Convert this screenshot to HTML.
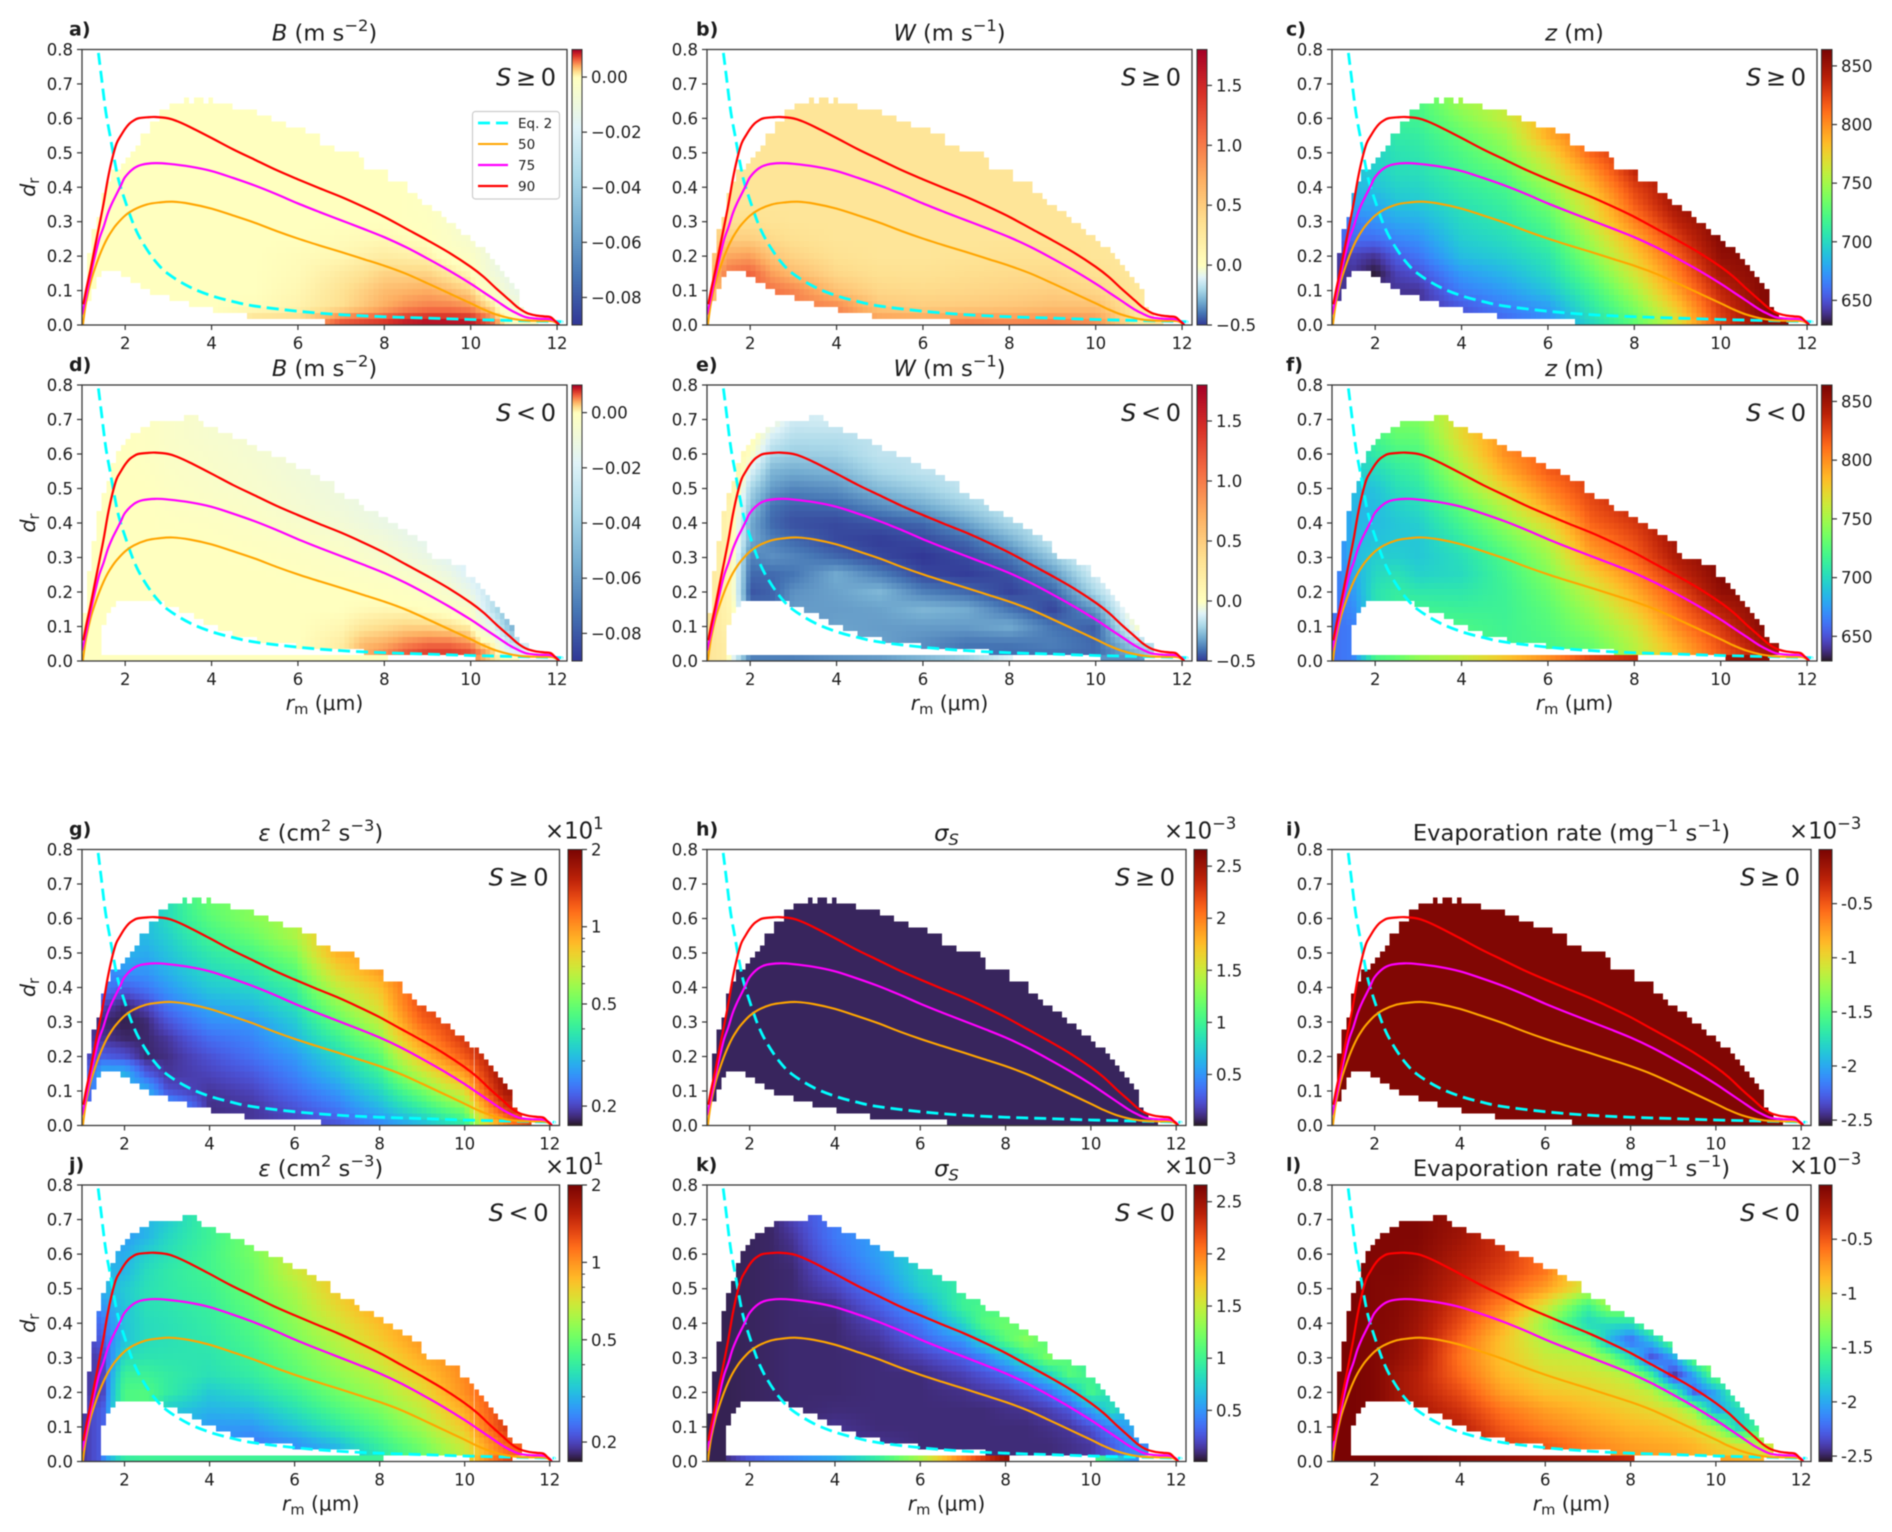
<!DOCTYPE html>
<html lang="en">
<head>
<meta charset="utf-8">
<title>Cloud droplet statistics panels</title>
<style>
html,body{margin:0;padding:0;background:#fff;}
#figure{display:block;width:1892px;height:1532px;background:#fff;filter:blur(0.45px);}
#legend-layer{filter:blur(0.45px);}
text{font-family:"DejaVu Sans","Liberation Sans",sans-serif;fill:#1c1c1c;white-space:pre;}
</style>
</head>
<body>
<svg id="figure" xmlns="http://www.w3.org/2000/svg" width="1892" height="1532" viewBox="0 0 1892 1532"></svg>
<script>
/* ---------- shared axes data ---------- */
const xTickValues=[2,4,6,8,10,12];
const yTickValues=[0,0.1,0.2,0.3,0.4,0.5,0.6,0.7,0.8];
const rmKnots=[1,1.5,2,2.5,3,4,5,6,7,8,9,10,11,12];
const rmKnotsFine=[1,1.5,2,2.5,3,4,5,6,7,7.5,8,8.5,9,9.5,10,10.5,11,12];
/* every field column lists values at dr = 0, 0.05, 0.10 ... ; the last entry holds upward */

/* ---------- percentile curves and Eq. 2 ---------- */
const curve90Rm=[1.03,1.1,1.2,1.3,1.4,1.5,1.6,1.7,1.8,1.9,2,2.1,2.2,2.3,2.5,2.7,3,3.2,3.5,4,4.5,5,5.5,6,6.5,7,7.5,8,8.5,9,9.5,10,10.3,10.6,10.9,11.1,11.3,11.5,11.7,11.85,11.95,12.05];
const curve90Dr=[0.06,0.105,0.163,0.227,0.289,0.353,0.425,0.483,0.527,0.55,0.57,0.585,0.594,0.6,0.603,0.604,0.6,0.592,0.575,0.543,0.51,0.48,0.45,0.423,0.397,0.372,0.344,0.314,0.28,0.246,0.21,0.169,0.14,0.105,0.072,0.05,0.035,0.028,0.025,0.023,0.012,0];
const curve75Rm=[1,1.1,1.2,1.3,1.4,1.5,1.6,1.7,1.8,1.9,2,2.2,2.4,2.7,3,3.5,4,4.5,5,5.5,6,6.5,7,7.5,8,8.5,9,9.5,10,10.3,10.6,10.9,11.1,11.3,11.6,11.85,12,12.05];
const curve75Dr=[0.03,0.085,0.145,0.2,0.25,0.285,0.325,0.355,0.38,0.405,0.43,0.455,0.466,0.47,0.468,0.46,0.447,0.427,0.405,0.38,0.353,0.328,0.304,0.28,0.255,0.226,0.193,0.158,0.12,0.095,0.07,0.045,0.032,0.022,0.018,0.017,0.008,0];
const curve50Rm=[1.02,1.05,1.1,1.2,1.3,1.4,1.5,1.6,1.7,1.8,2,2.2,2.5,2.8,3.1,3.5,4,4.5,5,5.5,6,6.5,7,7.5,8,8.5,9,9.5,10,10.3,10.6,10.9,11.2,11.6,11.9,12.05];
const curve50Dr=[0,0.03,0.07,0.125,0.165,0.20,0.23,0.255,0.275,0.292,0.318,0.335,0.35,0.356,0.358,0.352,0.338,0.318,0.297,0.273,0.251,0.231,0.212,0.192,0.172,0.149,0.121,0.092,0.063,0.045,0.03,0.02,0.014,0.012,0.011,0];
const eq2Rm=[1.38,1.45,1.55,1.65,1.75,1.85,2,2.2,2.4,2.7,3,3.5,4,4.5,5,6,7,8,9,10,11,12,12.1];
const eq2Dr=[0.79,0.72,0.62,0.55,0.48,0.42,0.36,0.29,0.24,0.185,0.148,0.11,0.085,0.068,0.055,0.04,0.03,0.024,0.02,0.016,0.013,0.01,0.009];

/* ---------- occupied regions of the (rm, dr) plane ---------- */
const posTopEnd=[1.12,1.23,1.34,1.46,1.57,1.68,1.91,2.03,2.14,2.25,2.36,2.58,2.81,3.05,3.38,3.5,3.6,3.83,3.95,4.06,4.51,5.08,5.43,5.77,6.22,6.46,6.8,7.01,7.36,7.58,7.81,8.04,8.26,8.5,8.73,8.84,9.07,9.28,9.41,9.63,9.74,9.97,10.08,10.31,10.42,10.54,10.65,10.77,10.89,11,11.11,11.21,11.34,11.55];
const posTopDr=[0,0.213,0.285,0.32,0.375,0.41,0.445,0.465,0.48,0.5,0.53,0.55,0.59,0.625,0.64,0.66,0.64,0.66,0.64,0.66,0.64,0.62,0.6,0.585,0.57,0.55,0.53,0.51,0.5,0.48,0.46,0.445,0.425,0.41,0.39,0.37,0.355,0.33,0.315,0.3,0.28,0.26,0.25,0.23,0.21,0.19,0.175,0.155,0.14,0.125,0.105,0.06,0.04,0.018];
const posLowEnd=[1.23,1.34,1.46,1.91,2.13,2.36,2.58,3.05,3.5,4.06,4.85,6.67,12.3];
const posLowDr=[0.07,0.108,0.142,0.16,0.143,0.125,0.108,0.089,0.072,0.053,0.036,0.018,0];
const negTopEnd=[1.12,1.23,1.34,1.46,1.57,1.68,1.79,1.91,2.03,2.13,2.36,2.58,3.38,3.71,3.83,4.19,4.51,4.85,5.08,5.43,5.77,5.98,6.33,6.56,6.9,7.12,7.36,7.58,7.81,8.04,8.26,8.5,8.73,8.94,9.07,9.28,9.5,9.84,10.08,10.18,10.31,10.42,10.54,10.65,10.77,10.89,11,11.09,11.3];
const negTopDr=[0.14,0.265,0.355,0.43,0.48,0.53,0.57,0.605,0.625,0.64,0.66,0.675,0.695,0.715,0.695,0.68,0.66,0.64,0.625,0.605,0.585,0.57,0.55,0.535,0.515,0.49,0.475,0.46,0.44,0.42,0.4,0.385,0.365,0.35,0.32,0.3,0.29,0.27,0.25,0.225,0.21,0.195,0.18,0.16,0.145,0.125,0.105,0.07,0.05];
const negLowEnd=[1.46,1.57,1.68,1.79,2.95,3.29,3.61,3.84,4.19,4.53,5.08,5.98,7.57,12.3];
const negLowDr=[0,0.106,0.142,0.16,0.179,0.16,0.142,0.123,0.106,0.089,0.072,0.055,0.036,0.018];
const negStripStart=[1,10.1];
const negStripEnd=[8.05,11.1];

/* ---------- B (units of 1e-3 m s-2), fine rm columns ---------- */
const fieldA=[[0],[0],[0],[0],[0],[0],[3,0.2,0],[3,0.8,0.5,0.3,0.2,0],[7.5,2,1.8,1.3,0.5,0.2,0],[8,3,2.6,1.8,0.9,0.3,0],[8.5,4,3.4,2.5,1.2,0.4,0],[9.5,5,3.7,2.5,1,0.2,-0.2],[10,5.5,4,2.5,0.8,0,-0.5,-1],[10,5.5,3.4,1.5,-0.5,-2,-3],[10,5,2.5,0.3,-2,-5,-8],[7,2,-2,-8,-10],[-1,-6,-12,-15,-20],[-2,-10,-20]];
const fieldD=[[0],[0],[0],[0,0,0,0,0,0,0,0,0,0,0,-0.5,-1],[0,0,0,0,0,0,0,0,-0.5,-1,-1.5,-2,-2.5,-3],[0,0,0,0,0,0,0,-0.5,-1,-2,-3,-3.5,-4,-5],[0,0,0,0,0,0,-0.5,-1,-2,-3,-4.5,-5,-6],[0,0,0,0,0,-0.5,-1,-2,-4,-6,-7,-8],[1,1.2,0.5,0,0,-1,-2,-4,-7,-9,-10],[4,3.5,1.5,0.3,-0.2,-1.5,-3.5,-6,-9.5,-11],[6,4,2,0.5,-0.5,-2,-5,-8,-12],[8,5.2,2.5,0.4,-1,-3.5,-8,-12,-14],[9,6,2.5,-0.2,-2,-6,-12,-15],[9,6,2,-1,-5,-11,-17],[9,5,1,-3,-13,-20,-22],[6,0,-15,-30],[-10,-30,-55,-60],[-10]];
const stripD=[0,0,0,0,0,0,0,0,0,0,0,6,-2,0];
/* ---------- W (m s-1) ---------- */
const fieldB=[[0.45],[0.9,0.9,0.9,1.05,0.75,0.48,0.35,0.3],[1.15,1.15,1.15,1.15,0.8,0.48,0.35,0.3],[1.05,1.05,1.05,0.8,0.55,0.4,0.32,0.3],[1,1,0.95,0.62,0.45,0.35,0.3],[0.95,0.95,0.58,0.42,0.34,0.3],[0.95,0.55,0.42,0.35,0.3],[0.9,0.5,0.4,0.34,0.3],[1.05,0.52,0.42,0.37,0.32,0.3],[1,0.55,0.45,0.39,0.34,0.3],[1.05,0.6,0.48,0.4,0.34,0.3],[0.95,0.6,0.42,0.34,0.3],[0.25,0.25,0.27],[0.25]];
const fieldE=[[0.3],[0.2,0.2,0.15,0.12,0.1,0.1,0.1,0.12,0.12,0.15,0.2],[-0.05,-0.1,-0.2,-0.4,-0.45,-0.42,-0.38,-0.3,-0.3,-0.25,-0.2,-0.1,0,0.05],[-0.42,-0.42,-0.42,-0.42,-0.43,-0.42,-0.35,-0.38,-0.42,-0.4,-0.33,-0.28,-0.2,-0.12,-0.02],[-0.4,-0.38,-0.36,-0.33,-0.35,-0.4,-0.37,-0.42,-0.46,-0.43,-0.37,-0.3,-0.23,-0.18,-0.13],[-0.3,-0.3,-0.32,-0.33,-0.32,-0.3,-0.42,-0.47,-0.47,-0.42,-0.35,-0.28,-0.22,-0.18,-0.12],[-0.35,-0.32,-0.33,-0.32,-0.28,-0.38,-0.47,-0.49,-0.45,-0.36,-0.27,-0.2,-0.16],[-0.33,-0.36,-0.33,-0.28,-0.38,-0.47,-0.5,-0.47,-0.42,-0.3,-0.22,-0.16],[-0.4,-0.4,-0.33,-0.3,-0.42,-0.49,-0.47,-0.42,-0.32,-0.22,-0.15],[-0.42,-0.4,-0.3,-0.4,-0.48,-0.46,-0.4,-0.3,-0.2,-0.14],[-0.42,-0.38,-0.4,-0.48,-0.43,-0.35,-0.24,-0.14],[-0.42,-0.42,-0.44,-0.33,-0.2,-0.12,-0.05],[-0.35,-0.2,0,0.05],[-0.1]];
const stripE=[0,0,-0.38,-0.38,-0.38,-0.35,-0.33,-0.28,-0.22,-0.1,-0.1,-0.35,-0.35,-0.1];
/* ---------- z (m) ---------- */
const fieldC=[[640,640,640,640,640,655],[640,640,640,640,645,660,665,680,685,690],[640,640,640,630,640,660,672,680,690,695,697,700],[640,640,640,645,655,668,680,690,697,703,705,710,715],[640,640,640,650,662,672,682,692,698,704,708,712,718,723],[650,652,665,675,688,695,700,705,711,718,723,730,740,750],[655,665,675,685,695,702,708,714,720,730,740,748,760],[668,675,690,700,707,716,725,735,746,760,772,790],[698,708,718,730,742,752,765,772,785,798,815],[728,738,752,765,778,790,805,817,826,838],[765,780,795,806,817,828,840,850],[825,830,838,848,855,860],[855,860],[860]];
const fieldF=[[660],[665,665,665,670,675,680,685,685,685,685,688,695],[700,700,700,705,705,700,695,690,687,687,690,700,710,720],[715,715,715,715,712,705,695,692,692,697,703,710,720,730,738],[718,718,718,718,708,697,692,692,695,702,708,716,722,731,740],[722,722,722,715,708,701,703,710,720,730,742,753,763,772],[718,718,717,716,716,718,722,733,745,757,775,790,800],[722,722,725,728,733,740,748,757,772,792,805,817],[730,732,742,750,760,775,792,803,815,822,828],[755,757,765,778,790,802,815,822,830,838],[782,790,803,812,822,835,845,850],[815,822,830,842,855,860],[840,850,860],[855]];
const stripF=[660,668,720,730,745,760,780,800,825,835,835,850,855,855];
/* ---------- epsilon (units of 10 cm2 s-3) ---------- */
const fieldG=[[0.19],[0.3,0.3,0.3,0.3,0.22,0.19,0.18,0.2,0.25],[0.3,0.3,0.3,0.3,0.21,0.18,0.175,0.18,0.22,0.27,0.3],[0.3,0.3,0.3,0.22,0.18,0.18,0.18,0.2,0.24,0.27,0.29,0.31],[0.3,0.3,0.21,0.19,0.185,0.19,0.21,0.24,0.27,0.3,0.32,0.34,0.36],[0.185,0.185,0.19,0.2,0.21,0.23,0.26,0.29,0.33,0.36,0.39,0.43,0.47,0.5],[0.19,0.19,0.2,0.215,0.235,0.25,0.27,0.31,0.35,0.39,0.44,0.5,0.55],[0.195,0.21,0.23,0.25,0.27,0.3,0.33,0.37,0.41,0.47,0.54,0.62],[0.21,0.24,0.27,0.31,0.35,0.41,0.48,0.56,0.66,0.77,0.9],[0.25,0.3,0.35,0.41,0.47,0.56,0.66,0.75,0.84,0.98],[0.3,0.4,0.51,0.66,0.84,1,1.18,1.3],[0.38,0.53,0.74,0.97,1.23,1.4,1.45],[1,1.4,1.7,1.8],[1.5]];
const fieldJ=[[0.19],[0.22,0.22,0.22,0.22,0.2,0.2,0.2,0.22,0.24,0.27,0.3],[0.3,0.35,0.45,0.45,0.45,0.42,0.36,0.32,0.32,0.32,0.33,0.3,0.29,0.27],[0.42,0.42,0.42,0.46,0.46,0.42,0.38,0.36,0.36,0.37,0.37,0.36,0.34,0.3],[0.38,0.38,0.33,0.33,0.4,0.4,0.38,0.37,0.37,0.38,0.39,0.39,0.37,0.35,0.33],[0.38,0.28,0.27,0.3,0.33,0.37,0.38,0.39,0.4,0.41,0.42,0.43,0.43,0.42],[0.38,0.24,0.27,0.31,0.36,0.4,0.42,0.44,0.46,0.48,0.5,0.5,0.52],[0.3,0.26,0.32,0.37,0.42,0.47,0.5,0.53,0.56,0.59,0.62,0.68],[0.28,0.31,0.39,0.45,0.51,0.56,0.6,0.64,0.7,0.76,0.82],[0.37,0.41,0.47,0.53,0.6,0.65,0.72,0.8,0.86,0.95],[0.48,0.52,0.6,0.67,0.74,0.82,0.92,1],[0.65,0.7,0.82,0.92,1.02,1.05],[1.1,1.2,1.4],[1.3]];
const stripJ=[0.2,0.25,0.4,0.42,0.42,0.42,0.42,0.42,0.42,0.42,0.5,0.7,1.3,1.3];
/* ---------- sigma_S (units of 1e-3), fine rm columns for panel k ---------- */
const fieldH=[[0.07]];
const fieldK=[[0.06],[0.06],[0.07],[0.08],[0.09,0.09,0.09,0.09,0.09,0.09,0.09,0.09,0.09,0.09,0.09,0.09,0.11,0.14,0.19],[0.14,0.14,0.13,0.1,0.09,0.09,0.09,0.09,0.09,0.11,0.2,0.28,0.35,0.4],[0.13,0.13,0.1,0.1,0.1,0.1,0.1,0.14,0.2,0.3,0.4,0.5,0.55],[0.1,0.1,0.1,0.1,0.1,0.1,0.18,0.3,0.4,0.55,0.75,0.8],[0.1,0.1,0.1,0.1,0.12,0.18,0.3,0.5,0.8,1,0.95],[0.1,0.1,0.1,0.1,0.15,0.25,0.42,0.8,1.1,1.05,0.95],[0.1,0.1,0.1,0.12,0.18,0.33,0.65,1.1,1.2,1],[0.1,0.1,0.1,0.13,0.25,0.5,0.95,1.3,1.1],[0.1,0.1,0.12,0.18,0.35,0.75,1.25,1.1],[0.12,0.12,0.15,0.27,0.6,1.1,1.1],[0.15,0.15,0.25,0.55,1.05,1,0.9],[0.3,0.3,0.45,0.85,0.8],[0.45,0.5,0.6],[0.4]];
const stripK=[0.06,0.12,0.28,0.38,0.45,0.6,0.95,1.4,2,2.55,2.6,1.15,0.5,0.5];
/* ---------- evaporation rate (units of 1e-3 mg-1 s-1), fine rm columns for panel l ---------- */
const fieldI=[[-0.03]];
const fieldL=[[0],[0],[-0.03],[-0.1,-0.1,-0.1,-0.15,-0.15,-0.15,-0.1,-0.08,-0.06,-0.05,-0.05,-0.03],[-0.2,-0.2,-0.2,-0.2,-0.25,-0.25,-0.2,-0.18,-0.15,-0.12,-0.1,-0.07,-0.05,-0.03],[-0.2,-0.25,-0.25,-0.35,-0.45,-0.55,-0.6,-0.55,-0.45,-0.38,-0.3,-0.25,-0.2,-0.15,-0.12],[-0.4,-0.4,-0.5,-0.6,-0.75,-0.85,-0.9,-0.9,-0.8,-0.65,-0.5,-0.4,-0.35],[-0.45,-0.5,-0.65,-0.75,-0.9,-1,-1.1,-1.2,-1.3,-1.05,-0.75,-0.6],[-0.6,-0.65,-0.75,-0.85,-0.95,-1.05,-1.15,-1.4,-1.8,-1.6,-1.1],[-0.65,-0.7,-0.8,-0.9,-1,-1.1,-1.35,-1.95,-1.75,-1.25,-1],[-0.7,-0.75,-0.85,-0.95,-1.05,-1.2,-1.75,-2.25,-1.75,-1.25],[-0.72,-0.78,-0.87,-1,-1.15,-1.6,-2.35,-1.9,-1.35],[-0.75,-0.8,-0.92,-1.05,-1.5,-2.45,-2.05,-1.4],[-0.8,-0.85,-1,-1.3,-2.25,-2,-1.4],[-0.85,-0.95,-1.25,-2.05,-2,-1.4,-1.1],[-0.9,-1.05,-1.85,-1.8,-1.5],[-0.9,-1.2,-1.6,-1.6],[-0.9]];
const stripL=[0,0,0,0,0,-0.05,-0.1,-0.15,-0.2,-0.3,-0.4,-0.75,-0.85,-0.85];

/* ---------- colorbar ticks ---------- */
const ticksB=[0,-20,-40,-60,-80];
const labelsB=["0.00","\u22120.02","\u22120.04","\u22120.06","\u22120.08"];
const ticksW=[1.5,1,0.5,0,-0.5];
const labelsW=["1.5","1.0","0.5","0.0","\u22120.5"];
const ticksZ=[850,800,750,700,650];
const labelsZ=["850","800","750","700","650"];
const ticksEps=[2,1,0.5,0.2];
const labelsEps=["2","1","0.5","0.2"];
const minorEps=[0.3,0.4,0.6,0.7,0.8,0.9];
const ticksSigma=[2.5,2,1.5,1,0.5];
const labelsSigma=["2.5","2","1.5","1","0.5"];
const ticksEvap=[-0.5,-1,-1.5,-2,-2.5];
const labelsEvap=["-0.5","-1","-1.5","-2","-2.5"];

/* ---------- colormaps and norms ---------- */
const rdylbuStops=["#313695","#4575b4","#74add1","#abd9e9","#e0f3f8","#ffffbf","#fee090","#fdae61","#f46d43","#d73027","#a50026"];
function hexToRgb(h){return [parseInt(h.slice(1,3),16),parseInt(h.slice(3,5),16),parseInt(h.slice(5,7),16)];}
const rdylbuRgb=rdylbuStops.map(hexToRgb);
function clamp01(t){return Math.max(0,Math.min(1,t));}
function rdylbu(t){
  t=clamp01(t)*10;const i=Math.min(9,Math.floor(t));const f=t-i;const a=rdylbuRgb[i],b=rdylbuRgb[i+1];
  return "rgb("+Math.round(a[0]+(b[0]-a[0])*f)+","+Math.round(a[1]+(b[1]-a[1])*f)+","+Math.round(a[2]+(b[2]-a[2])*f)+")";
}
function turboPoly(x){
  const r=0.13572138+x*(4.61539260+x*(-42.66032258+x*(132.13108234+x*(-152.94239396+x*59.28637943))));
  const g=0.09140261+x*(2.19418839+x*(4.84296658+x*(-14.18503333+x*(4.27729857+x*2.82956604))));
  const b=0.10667330+x*(12.64194608+x*(-60.58204836+x*(110.36276771+x*(-89.90310912+x*27.34824973))));
  return [clamp01(r)*255,clamp01(g)*255,clamp01(b)*255];
}
function turbo(t){
  const x=clamp01(t);
  let c=turboPoly(x);
  if(x>0.9){
    const a=turboPoly(0.9),f=(x-0.9)/0.1;
    c=[a[0]+(122-a[0])*f,a[1]+(4-a[1])*f,a[2]+(3-a[2])*f];
  }
  return "rgb("+Math.round(c[0])+","+Math.round(c[1])+","+Math.round(c[2])+")";
}
function normB(v){return v>=0?0.5+0.5*v/10:0.5+0.5*v/90;}
function normW(v){return v>=0?0.5+0.5*v/1.8:0.5+0.5*v/0.5;}
function normZ(v){return (v-629)/(864-629);}
function normEps(v){return Math.log10(v/0.168)/Math.log10(2/0.168);}
function normSigma(v){return (v-0.01)/(2.66-0.01);}
function normEvap(v){return (v+2.55)/2.55;}

/* ---------- lookups ---------- */
function stepLookup(ends,vals,rm){
  for(let i=0;i<ends.length;i++){if(rm<=ends[i])return vals[i];}
  return null;
}
function columnValue(col,dr){
  const p=dr/0.05,k=Math.floor(p),f=p-k;
  const a=col[Math.min(k,col.length-1)],b=col[Math.min(k+1,col.length-1)];
  return a+(b-a)*f;
}
function rmIndex(rm,knots){
  let i=0;
  while(i<knots.length-2&&rm>knots[i+1])i++;
  return i;
}
function fieldValue(field,rm,dr,knots){
  const i=rmIndex(rm,knots);
  const f=clamp01((rm-knots[i])/(knots[i+1]-knots[i]));
  const a=columnValue(field[Math.min(i,field.length-1)],dr);
  const b=columnValue(field[Math.min(i+1,field.length-1)],dr);
  return a+(b-a)*f;
}
function stripValue(strip,rm){
  const i=rmIndex(rm,rmKnots);
  const f=clamp01((rm-rmKnots[i])/(rmKnots[i+1]-rmKnots[i]));
  return strip[i]+(strip[i+1]-strip[i])*f;
}

/* ---------- svg helpers ---------- */
const NS="http://www.w3.org/2000/svg";
const svg=document.getElementById("figure");
function mk(parent,tag,attrs){
  const n=document.createElementNS(NS,tag);
  for(const k in attrs)n.setAttribute(k,attrs[k]);
  parent.appendChild(n);
  return n;
}
function richText(node,parts,size){
  let shift=0;
  parts.forEach(function(p){
    const s=mk(node,"tspan",{});
    s.textContent=p[0];
    const kind=p[1]||"";
    let target=0;
    if(kind.indexOf("sup")>=0){target=-size*0.42;s.setAttribute("font-size",size*0.72);}
    if(kind.indexOf("sub")>=0){target=size*0.2;s.setAttribute("font-size",size*0.72);}
    if(kind.indexOf("i")===0)s.setAttribute("font-style","italic");
    if(target!==shift){s.setAttribute("dy",target-shift);shift=target;}
  });
}
/* smooth path through the data points of a curve */
function smoothPath(rx,ry,xs,ys){
  const px=rx.map(xs),py=ry.map(ys);
  let d="M"+px[0].toFixed(2)+" "+py[0].toFixed(2);
  for(let i=0;i<px.length-1;i++){
    const x0=px[Math.max(i-1,0)],y0=py[Math.max(i-1,0)];
    const x3=px[Math.min(i+2,px.length-1)],y3=py[Math.min(i+2,px.length-1)];
    const c1x=px[i]+(px[i+1]-x0)/6,c1y=py[i]+(py[i+1]-y0)/6;
    const c2x=px[i+1]-(x3-px[i])/6,c2y=py[i+1]-(y3-py[i])/6;
    d+="C"+c1x.toFixed(2)+" "+c1y.toFixed(2)+" "+c2x.toFixed(2)+" "+c2y.toFixed(2)+" "+px[i+1].toFixed(2)+" "+py[i+1].toFixed(2);
  }
  return d;
}

/* ---------- layout constants ---------- */
const cellDx=0.1125,cellDy=0.8/46,xDomainMin=1,xDomainMax=12.23,yDomainMax=0.8;

function drawPanel(p){
  const g=mk(svg,"g",{});
  
  
  const knots=p.knots||rmKnots;
  const xs=function(rm){return p.left+(rm-xDomainMin)/(xDomainMax-xDomainMin)*(p.right-p.left);};
  const ys=function(dr){return p.bottom-dr/yDomainMax*(p.bottom-p.top);};
  const clipId="clip-"+p.letter;
  const defs=mk(g,"defs",{});
  const cp=mk(defs,"clipPath",{id:clipId});
  mk(cp,"rect",{x:p.left,y:p.top,width:p.right-p.left,height:p.bottom-p.top});

  /* heatmap */
  const hm=mk(g,"g",{"shape-rendering":"crispEdges"});
  
  
  const topEnd=p.neg?negTopEnd:posTopEnd,topDr=p.neg?negTopDr:posTopDr;
  const lowEnd=p.neg?negLowEnd:posLowEnd,lowDr=p.neg?negLowDr:posLowDr;
  for(let i=0;i<100;i++){
    const rm=xDomainMin+(i+0.5)*cellDx;
    const top=stepLookup(topEnd,topDr,rm);
    const low=stepLookup(lowEnd,lowDr,rm);
    if(top===null||low===null)continue;
    for(let j=0;j<46;j++){
      const dr=(j+0.5)*cellDy;
      let value=null;
      if(dr>=low&&dr<=top){
        value=fieldValue(p.field,rm,dr,knots);
        if(p.strip&&j===0&&rm>1.46)value=stripValue(p.strip,rm);
      }else if(p.neg&&j===0&&rm>1.46){
        for(let s=0;s<negStripStart.length;s++){
          if(rm>=negStripStart[s]&&rm<=negStripEnd[s])value=stripValue(p.strip,rm);
        }
      }
      if(value===null)continue;
      const cell=mk(hm,"rect",{
        x:xs(rm-cellDx/2).toFixed(2),
        y:ys(dr+cellDy/2).toFixed(2),
        width:(xs(rm+cellDx/2)-xs(rm-cellDx/2)).toFixed(2),
        height:(ys(dr-cellDy/2)-ys(dr+cellDy/2)).toFixed(2),
        fill:p.cmap(p.norm(value))
      });
      
      
    }
  }

  /* curves */
  const lines=mk(g,"g",{"clip-path":"url(#"+clipId+")",fill:"none","stroke-linejoin":"round"});
  
  
  const eqLine=mk(lines,"path",{d:smoothPath(eq2Rm,eq2Dr,xs,ys),stroke:"#00ffff","stroke-width":2.8,"stroke-dasharray":"12 6"});
  
  
  const l50=mk(lines,"path",{d:smoothPath(curve50Rm,curve50Dr,xs,ys),stroke:"#ffa500","stroke-width":2.1});
  
  
  const l75=mk(lines,"path",{d:smoothPath(curve75Rm,curve75Dr,xs,ys),stroke:"#ff00ff","stroke-width":2.2});
  
  
  const l90=mk(lines,"path",{d:smoothPath(curve90Rm,curve90Dr,xs,ys),stroke:"#ff0000","stroke-width":2.2});
  
  

  /* spines */
  const frame=mk(g,"rect",{x:p.left,y:p.top,width:p.right-p.left,height:p.bottom-p.top,fill:"none",stroke:"#3a3a3a","stroke-width":1.3});
  
  

  /* x axis */
  xTickValues.forEach(function(v){
    const t=mk(g,"line",{x1:xs(v),x2:xs(v),y1:p.bottom,y2:p.bottom+5,stroke:"#333","stroke-width":1.2});
    
    
    const l=mk(g,"text",{x:xs(v),y:p.bottom+24,"text-anchor":"middle","font-size":16.5});
    l.textContent=String(v);
    
    
  });
  /* y axis */
  yTickValues.forEach(function(v){
    const t=mk(g,"line",{x1:p.left-5,x2:p.left,y1:ys(v),y2:ys(v),stroke:"#333","stroke-width":1.2});
    
    
    const l=mk(g,"text",{x:p.left-9,y:ys(v)+6,"text-anchor":"end","font-size":16.5});
    l.textContent=v.toFixed(1);
    
    
  });

  /* panel titles and annotations */
  const title=mk(g,"text",{x:(p.left+p.right)/2,y:p.top-9,"text-anchor":"middle","font-size":22.6});
  richText(title,p.title,22.6);
  
  
  const tag=mk(g,"text",{x:p.letterX,y:p.top-14,"font-size":19,"font-weight":"bold"});
  tag.textContent=p.letter+")";
  
  
  const sign=mk(g,"text",{x:p.right-11,y:p.top+36,"text-anchor":"end","font-size":24,"word-spacing":"-3"});
  richText(sign,[["S","i"],[p.neg?" < 0":" \u2265 0",""]],24);
  
  
  if(p.yLabel){
    const cy=(p.top+p.bottom)/2;
    const yl=mk(g,"text",{x:35,y:cy,"text-anchor":"middle","font-size":20.5,transform:"rotate(-90 35 "+cy+")"});
    richText(yl,[["d","i"],["r","sub"]],20.5);
    
    
  }
  if(p.xLabel){
    const xl=mk(g,"text",{x:(p.left+p.right)/2,y:p.bottom+49,"text-anchor":"middle","font-size":20.3});
    richText(xl,[["r","i"],["m","sub"],[" (\u03bcm)",""]],20.3);
    
    
  }

  /* colorbar */
  const cb=mk(g,"g",{});
  
  
  const span=p.bottom-p.top;
  const cbPos=function(v){
    const t=p.logBar?Math.log10(v/p.vmin)/Math.log10(p.vmax/p.vmin):(v-p.vmin)/(p.vmax-p.vmin);
    return p.bottom-t*span;
  };
  const strips=mk(cb,"g",{"shape-rendering":"crispEdges"});
  
  
  for(let k=0;k<Math.ceil(span);k++){
    const t=(k+0.5)/span;
    const v=p.logBar?p.vmin*Math.pow(p.vmax/p.vmin,t):p.vmin+(p.vmax-p.vmin)*t;
    const band=mk(strips,"rect",{x:p.cbLeft,y:p.bottom-k-1,width:p.cbRight-p.cbLeft,height:1.4,fill:p.cmap(p.norm(v))});
    
    
  }
  const cbFrame=mk(cb,"rect",{x:p.cbLeft,y:p.top,width:p.cbRight-p.cbLeft,height:span,fill:"none",stroke:"#333","stroke-width":1});
  
  
  p.ticks.forEach(function(v,i){
    const y=cbPos(v);
    const t=mk(cb,"line",{x1:p.cbRight,x2:p.cbRight+5,y1:y,y2:y,stroke:"#333","stroke-width":1.2});
    
    
    const l=mk(cb,"text",{x:p.cbRight+9,y:y+6,"font-size":16.5});
    l.textContent=p.labels[i];
    
    
  });
  (p.minor||[]).forEach(function(v){
    const y=cbPos(v);
    const t=mk(cb,"line",{x1:p.cbRight,x2:p.cbRight+3,y1:y,y2:y,stroke:"#333","stroke-width":1});
    
    
  });
  if(p.offset){
    const o=mk(cb,"text",{x:p.cbRight-p.offsetInset,y:p.top-11,"font-size":22.8});
    richText(o,[["\u00d710",""],[p.offset,"sup"]],22.8);
    
    
  }
}

/* ---------- panel placement ---------- */
const topRowFrame={left:[82,707,1332],right:[567,1192,1817],cbLeft:[572,1197,1821.5],cbRight:[582,1207,1832],letterX:[69,696,1286]};
const lowRowFrame={left:[82,707,1332],right:[559.5,1186,1811],cbLeft:[568,1194,1819],cbRight:[582,1207,1832],letterX:[69,696,1286]};
const rowTop=[49.5,385,849.5,1185];
const rowBottom=[325,661,1125.5,1461.5];

function place(frame,col,row){
  return {left:frame.left[col],right:frame.right[col],cbLeft:frame.cbLeft[col],cbRight:frame.cbRight[col],letterX:frame.letterX[col],top:rowTop[row],bottom:rowBottom[row],yLabel:col===0,xLabel:row===1||row===3,neg:row===1||row===3};
}
const titleB=[["B","i"],[" (m s",""],["\u22122","sup"],[")",""]];
const titleW=[["W","i"],[" (m s",""],["\u22121","sup"],[")",""]];
const titleZ=[["z","i"],[" (m)",""]];
const titleEps=[["\u03b5","i"],[" (cm",""],["2","sup"],[" s",""],["\u22123","sup"],[")",""]];
const titleSigma=[["\u03c3","i"],["S","isub"]];
const titleEvap=[["Evaporation rate (mg",""],["\u22121","sup"],[" s",""],["\u22121","sup"],[")",""]];

const barB={cmap:rdylbu,norm:normB,vmin:-90,vmax:10,ticks:ticksB,labels:labelsB,title:titleB};
const barW={cmap:rdylbu,norm:normW,vmin:-0.5,vmax:1.8,ticks:ticksW,labels:labelsW,title:titleW};
const barZ={cmap:turbo,norm:normZ,vmin:629,vmax:864,ticks:ticksZ,labels:labelsZ,title:titleZ};
const barEps={cmap:turbo,norm:normEps,vmin:0.168,vmax:2,logBar:true,ticks:ticksEps,labels:labelsEps,minor:minorEps,title:titleEps,offset:"1",offsetInset:37};
const barSigma={cmap:turbo,norm:normSigma,vmin:0.01,vmax:2.66,ticks:ticksSigma,labels:labelsSigma,title:titleSigma,offset:"\u22123",offsetInset:43};
const barEvap={cmap:turbo,norm:normEvap,vmin:-2.55,vmax:0,ticks:ticksEvap,labels:labelsEvap,title:titleEvap,offset:"\u22123",offsetInset:43};

drawPanel(Object.assign(place(topRowFrame,0,0),barB,{letter:"a",field:fieldA,knots:rmKnotsFine}));
drawPanel(Object.assign(place(topRowFrame,1,0),barW,{letter:"b",field:fieldB}));
drawPanel(Object.assign(place(topRowFrame,2,0),barZ,{letter:"c",field:fieldC}));
drawPanel(Object.assign(place(topRowFrame,0,1),barB,{letter:"d",field:fieldD,strip:stripD,knots:rmKnotsFine}));
drawPanel(Object.assign(place(topRowFrame,1,1),barW,{letter:"e",field:fieldE,strip:stripE}));
drawPanel(Object.assign(place(topRowFrame,2,1),barZ,{letter:"f",field:fieldF,strip:stripF}));
drawPanel(Object.assign(place(lowRowFrame,0,2),barEps,{letter:"g",field:fieldG}));
drawPanel(Object.assign(place(lowRowFrame,1,2),barSigma,{letter:"h",field:fieldH}));
drawPanel(Object.assign(place(lowRowFrame,2,2),barEvap,{letter:"i",field:fieldI}));
drawPanel(Object.assign(place(lowRowFrame,0,3),barEps,{letter:"j",field:fieldJ,strip:stripJ}));
drawPanel(Object.assign(place(lowRowFrame,1,3),barSigma,{letter:"k",field:fieldK,strip:stripK,knots:rmKnotsFine}));
drawPanel(Object.assign(place(lowRowFrame,2,3),barEvap,{letter:"l",field:fieldL,strip:stripL,knots:rmKnotsFine}));
</script>
<svg id="legend-layer" xmlns="http://www.w3.org/2000/svg" width="1892" height="1532" viewBox="0 0 1892 1532" style="position:absolute;left:0;top:0;pointer-events:none">
  <rect x="472.5" y="111.5" width="87" height="87.5" rx="3" fill="#ffffff" fill-opacity="0.8" stroke="#cccccc" stroke-width="1.2"/>
  <line x1="478" x2="508" y1="123" y2="123" stroke="#00ffff" stroke-width="2.8" stroke-dasharray="12 6"/>
  <text x="518" y="128" font-size="13.5">Eq. 2</text>
  <line x1="478" x2="508" y1="144" y2="144" stroke="#ffa500" stroke-width="2.1"/>
  <text x="518" y="149" font-size="13.5">50</text>
  <line x1="478" x2="508" y1="165" y2="165" stroke="#ff00ff" stroke-width="2.2"/>
  <text x="518" y="170" font-size="13.5">75</text>
  <line x1="478" x2="508" y1="186" y2="186" stroke="#ff0000" stroke-width="2.2"/>
  <text x="518" y="191" font-size="13.5">90</text>
</svg>
</body>
</html>
